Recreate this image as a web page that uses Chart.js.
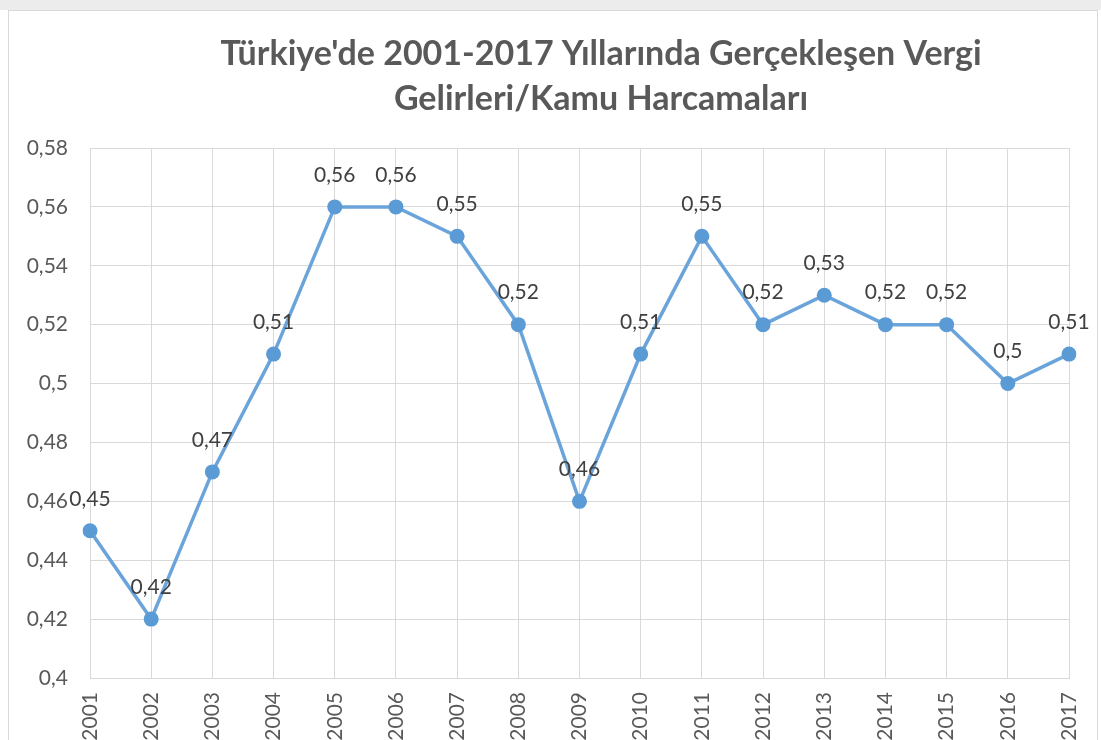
<!DOCTYPE html>
<html>
<head>
<meta charset="utf-8">
<script src="https://cdn.jsdelivr.net/npm/chart.js@4.4.0/dist/chart.umd.min.js"></script>
<style>
    html, body { margin: 0; padding: 0; background: #ffffff; overflow: hidden; }
    .topband { position: absolute; left: 0; top: 0; width: 1101px; height: 10px; background: #ececec; }
    .frame {
        position: absolute; left: 8px; top: 10px;
        width: 1088px; height: 760px;
        border: 1px solid #d9d9d9; background: #ffffff;
    }
    canvas { display: block; }
</style>
</head>
<body>
<div class="topband"></div>
<div class="frame">
    <canvas id="taxChart" width="1088" height="760"></canvas>
</div>
<script>
// Chart data
const years = ['2001', '2002', '2003', '2004', '2005', '2006', '2007', '2008', '2009',
               '2010', '2011', '2012', '2013', '2014', '2015', '2016', '2017'];
const ratios = [0.45, 0.42, 0.47, 0.51, 0.56, 0.56, 0.55, 0.52, 0.46,
                0.51, 0.55, 0.52, 0.53, 0.52, 0.52, 0.50, 0.51];
const titleLines = ["Türkiye'de 2001-2017 Yıllarında Gerçekleşen Vergi", 'Gelirleri/Kamu Harcamaları'];
const yMin = 0.4;
const yMax = 0.58;
const yStep = 0.02;

// Turkish decimal comma
function formatComma(v) {
    return Number(v.toFixed(2)).toString().replace('.', ',');
}

// Point labels above each marker
const pointLabels = {
    id: 'pointLabels',
    afterDatasetsDraw(chart) {
        const ctx = chart.ctx;
        const meta = chart.getDatasetMeta(0);
        ctx.save();
        ctx.font = '21px Lato';
        ctx.fillStyle = '#404040';
        ctx.textAlign = 'center';
        ctx.textBaseline = 'middle';
        meta.data.forEach((pt, i) => {
            ctx.fillText(formatComma(ratios[i]), pt.x, pt.y - 32);
        });
        ctx.restore();
    }
};

// Title drawn manually so it sits where the original one is
const titleDraw = {
    id: 'titleDraw',
    afterDraw(chart) {
        const ctx = chart.ctx;
        ctx.save();
        ctx.font = 'bold 34px Lato';
        ctx.fillStyle = '#595959';
        ctx.textAlign = 'center';
        ctx.textBaseline = 'middle';
        titleLines.forEach((line, i) => {
            ctx.fillText(line, 592, 43 + i * 45);
        });
        ctx.restore();
    }
};

const gridColor = '#d9d9d9';

new Chart(document.getElementById('taxChart'), {
    type: 'line',
    data: {
        labels: years,
        datasets: [{
            data: ratios,
            borderColor: '#6aa4da',
            backgroundColor: '#5b9bd5',
            borderWidth: 3.5,
            pointRadius: 7.5,
            pointHoverRadius: 7.5,
            pointBorderWidth: 0,
            pointBackgroundColor: '#5b9bd5',
            pointBorderColor: '#5b9bd5',
            tension: 0
        }]
    },
    options: {
        responsive: false,
        animation: false,
        layout: {
            padding: { top: 137, right: 28, bottom: 0, left: 0 }
        },
        plugins: {
            legend: { display: false },
            title: { display: false },
            tooltip: { enabled: false }
        },
        scales: {
            x: {
                offset: false,
                grid: { color: gridColor, lineWidth: 1, drawTicks: false },
                border: { color: gridColor, width: 1 },
                ticks: {
                    minRotation: 90,
                    maxRotation: 90,
                    padding: 14,
                    color: '#595959',
                    font: { family: 'Lato', size: 21 }
                },
                afterFit: (scale) => {
                    scale.height = 93;
                    scale.paddingLeft = 0;
                    scale.paddingRight = 0;
                }
            },
            y: {
                min: yMin,
                max: yMax,
                grid: { color: gridColor, lineWidth: 1, drawTicks: false },
                border: { color: gridColor, width: 1 },
                ticks: {
                    stepSize: yStep,
                    padding: 22,
                    color: '#595959',
                    font: { family: 'Lato', size: 21 },
                    callback: (v) => formatComma(v)
                },
                afterFit: (scale) => {
                    scale.width = 81;
                    scale.paddingTop = 0;
                    scale.paddingBottom = 0;
                }
            }
        }
    },
    plugins: [pointLabels, titleDraw]
});
</script>
</body>
</html>
